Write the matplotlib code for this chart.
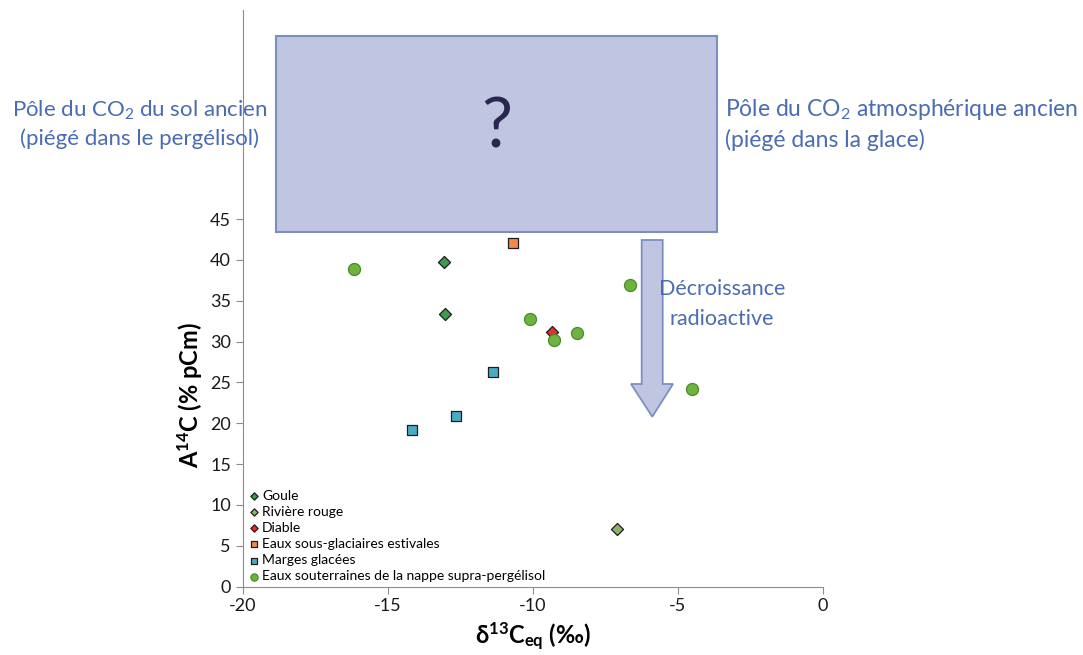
import matplotlib
matplotlib.use("Agg")
import matplotlib.pyplot as plt
from matplotlib.patches import Rectangle, Polygon

plt.rcParams['font.family'] = ['Lato', 'DejaVu Sans']
plt.rcParams['mathtext.fontset'] = 'custom'
plt.rcParams['mathtext.rm'] = 'Lato'
plt.rcParams['mathtext.it'] = 'Lato:italic'
plt.rcParams['mathtext.bf'] = 'Lato:bold'
plt.rcParams['axes.unicode_minus'] = False

# data: delta13C (permil) and A14C (% pCm)
goule_x = [-13.05, -13.03]
goule_y = [39.8, 33.4]
riviere_x = [-7.09]
riviere_y = [7.1]
diable_x = [-9.32]
diable_y = [31.2]
sousglac_x = [-10.67]
sousglac_y = [42.1]
marges_x = [-11.36, -12.63, -14.15]
marges_y = [26.3, 20.9, 19.2]
nappe_x = [-16.17, -6.66, -10.10, -9.25, -8.46, -4.52]
nappe_y = [38.9, 36.9, 32.8, 30.2, 31.1, 24.2]

series = [
    ("Goule", goule_x, goule_y, "D", "#3f9a4e", "#1e1e1e", 38),
    ("Rivière rouge", riviere_x, riviere_y, "D", "#8db36a", "#1e1e1e", 38),
    ("Diable", diable_x, diable_y, "D", "#e2302a", "#1e1e1e", 38),
    ("Eaux sous-glaciaires estivales", sousglac_x, sousglac_y, "s", "#f28a4c", "#1e1e1e", 55),
    ("Marges glacées", marges_x, marges_y, "s", "#4babc5", "#1e1e1e", 55),
    ("Eaux souterraines de la nappe supra-pergélisol", nappe_x, nappe_y, "o", "#6cb33f", "#4d8a2a", 75),
]

W, H = 1083, 655
def fx(px):
    return px / W
def fy(py):
    return 1 - py / H

fig = plt.figure(figsize=(W / 100, H / 100), dpi=100)
ax = fig.add_axes([fx(242.7), fy(586.5), (822.7 - 242.7) / W, (586.5 - 10) / H])

for name, xs, ys, mk, fc, ec, s in series:
    ax.scatter(xs, ys, marker=mk, s=s, facecolor=fc, edgecolor=ec, linewidth=0.9,
               label=name, zorder=3)

ax.set_xlim(-20, 0)
ax.set_ylim(0, 70.6)
ax.set_xticks([-20, -15, -10, -5, 0])
ax.set_yticks(range(0, 50, 5))
ax.tick_params(direction='out', length=5, color='#8c8c8c', labelsize=13,
               labelcolor='#1a1a1a')
for sp in ['top', 'right']:
    ax.spines[sp].set_visible(False)
for sp in ['left', 'bottom']:
    ax.spines[sp].set_color('#8c8c8c')

ax.set_xlabel(r"δ$^{\mathbf{13}}$C$_{\mathbf{eq}}$ (‰)", fontsize=17, fontweight='bold',
              labelpad=4, family=['Lato', 'DejaVu Sans'])
fig.text(fx(190), fy(395), r"A$^{\mathbf{14}}$C (% pCm)", fontsize=17, fontweight='bold',
         rotation=90, ha='center', va='center')

leg = ax.legend(loc='lower left', frameon=False, fontsize=10, markerscale=0.6,
                handletextpad=0.1, labelspacing=0.3, borderaxespad=0.2,
                borderpad=0.1, handlelength=1.0)

# unknown pole box
box_c = '#c0c5e1'
edge_c = '#7d8fc0'
fig.patches.append(Rectangle((fx(276), fy(232)), (717 - 276) / W, (232 - 36) / H,
                             transform=fig.transFigure, facecolor=box_c,
                             edgecolor=edge_c, linewidth=1.5))
fig.text(fx(497), fy(128), "?", fontsize=50, color='#2b2650', ha='center', va='center')

# radioactive decay arrow
arrow_pts = [(641.7, 240), (662.7, 240), (662.7, 384), (673, 384), (652.3, 416.7),
             (631, 384), (641.7, 384)]
fig.patches.append(Polygon([(fx(x), fy(y)) for x, y in arrow_pts], closed=True,
                           transform=fig.transFigure, facecolor=box_c,
                           edgecolor=edge_c, linewidth=1.3))

txt_c = '#4a6cb2'
fig.text(fx(722), fy(304), "Décroissance\nradioactive", fontsize=15.5, color=txt_c,
         ha='center', va='center', linespacing=1.6)
fig.text(fx(140), fy(124), "Pôle du CO$_{\\mathrm{2}}$ du sol ancien\n(piégé dans le pergélisol)",
         fontsize=16, color=txt_c, ha='center', va='center', linespacing=1.4)
fig.text(fx(725), fy(124), "Pôle du CO$_{\\mathrm{2}}$ atmosphérique ancien\n(piégé dans la glace)",
         fontsize=16.5, color=txt_c, ha='left', va='center', linespacing=1.4)

fig.savefig("out.png", dpi=100)
